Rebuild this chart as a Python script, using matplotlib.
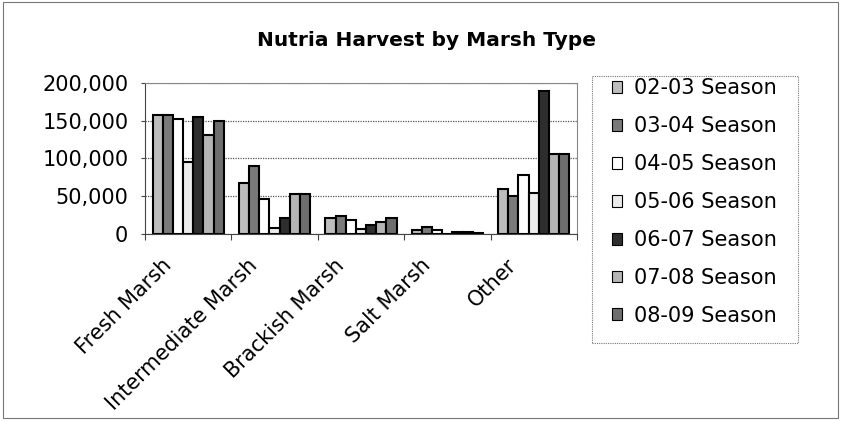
import numpy as np
import matplotlib.pyplot as plt
from matplotlib.patches import Rectangle
from matplotlib.ticker import FuncFormatter
from matplotlib.transforms import ScaledTranslation

categories = ['Fresh Marsh', 'Intermediate Marsh', 'Brackish Marsh', 'Salt Marsh', 'Other']
seasons = ['02-03 Season', '03-04 Season', '04-05 Season', '05-06 Season',
           '06-07 Season', '07-08 Season', '08-09 Season']

s0203 = [158000, 67000, 21800, 5800, 59000]
s0304 = [158000, 90500, 24400, 9300, 50000]
s0405 = [152000, 45700, 18200, 5800, 77600]
s0506 = [95000, 8500, 7200, 500, 53700]
s0607 = [155600, 21800, 11600, 3000, 188800]
s0708 = [131000, 52800, 16500, 2800, 106000]
s0809 = [150000, 53000, 21800, 800, 106000]
series = [s0203, s0304, s0405, s0506, s0607, s0708, s0809]

# greyscale fills, roughly what the halftone prints look like
fills = ['#bdbdbd', '#7a7a7a', '#ffffff', '#ececec', '#2e2e2e', '#b5b5b5', '#6e6e6e']

plt.rcParams['font.family'] = ['DejaVu Sans']

fig = plt.figure(figsize=(8.41, 4.21), dpi=100)
# outer chart border
fig.patches.append(Rectangle((0.003, 0.006), 0.994, 0.99, transform=fig.transFigure,
                             fill=False, edgecolor='#777777', linewidth=0.8))
# legend frame drawn by hand so the entries can sit high in it like the original
fig.patches.append(Rectangle((0.704, 0.185), 0.245, 0.6345, transform=fig.transFigure,
                             fill=False, edgecolor='#777777', linewidth=0.8,
                             linestyle=(0, (1, 1))))

ax = fig.add_axes([0.1724, 0.4442, 0.5136, 0.3587])

x = np.arange(len(categories))
nb = len(series)
w = 1.0 / (nb + 1.5)
for i, vals in enumerate(series):
    ax.bar(x - 0.5 + 0.75 * w + (i + 0.5) * w, vals, width=w, color=fills[i],
           edgecolor='black', linewidth=1.5, label=seasons[i], zorder=3)

ax.set_xlim(-0.5, len(categories) - 0.5)
ax.set_ylim(0, 200000)
ax.set_yticks(np.arange(0, 200001, 50000))
ax.yaxis.set_major_formatter(FuncFormatter(lambda v, p: f'{int(v):,}'))
ax.grid(axis='y', color='#555555', linestyle=(0, (1, 1)), linewidth=0.9, zorder=0)

# category ticks sit on the boundaries, labels at the centres
ax.set_xticks(np.arange(-0.5, len(categories), 1.0))
ax.set_xticklabels([])
ax.set_xticks(x, minor=True)
ax.set_xticklabels(categories, minor=True, rotation=45, ha='right',
                   rotation_mode='anchor', fontsize=15)
ax.tick_params(axis='x', which='minor', length=0, pad=0)
ax.tick_params(axis='x', which='major', length=4, color='#444444')
ax.tick_params(axis='y', length=3, color='#444444', labelsize=15, pad=9)
shift = ScaledTranslation(-0.27, -0.21, fig.dpi_scale_trans)
for lab in ax.get_xticklabels(minor=True):
    lab.set_transform(lab.get_transform() + shift)

for side in ['top', 'right']:
    ax.spines[side].set_color('#888888')
    ax.spines[side].set_linestyle((0, (1, 1)))
for side in ['left', 'bottom']:
    ax.spines[side].set_color('#444444')

fig.text(0.507, 0.903, 'Nutria Harvest by Marsh Type', ha='center', va='center',
         fontsize=14.5, fontweight='bold')

leg = fig.legend(loc='upper left', bbox_to_anchor=(0.7275, 0.814),
                 frameon=False, fontsize=15, handlelength=0.5,
                 handleheight=0.5, handletextpad=0.55, labelspacing=0.86,
                 borderpad=0.0, borderaxespad=0.0)
for h in leg.legend_handles:
    h.set_linewidth(0.8)

fig.savefig('out.png', dpi=100)
